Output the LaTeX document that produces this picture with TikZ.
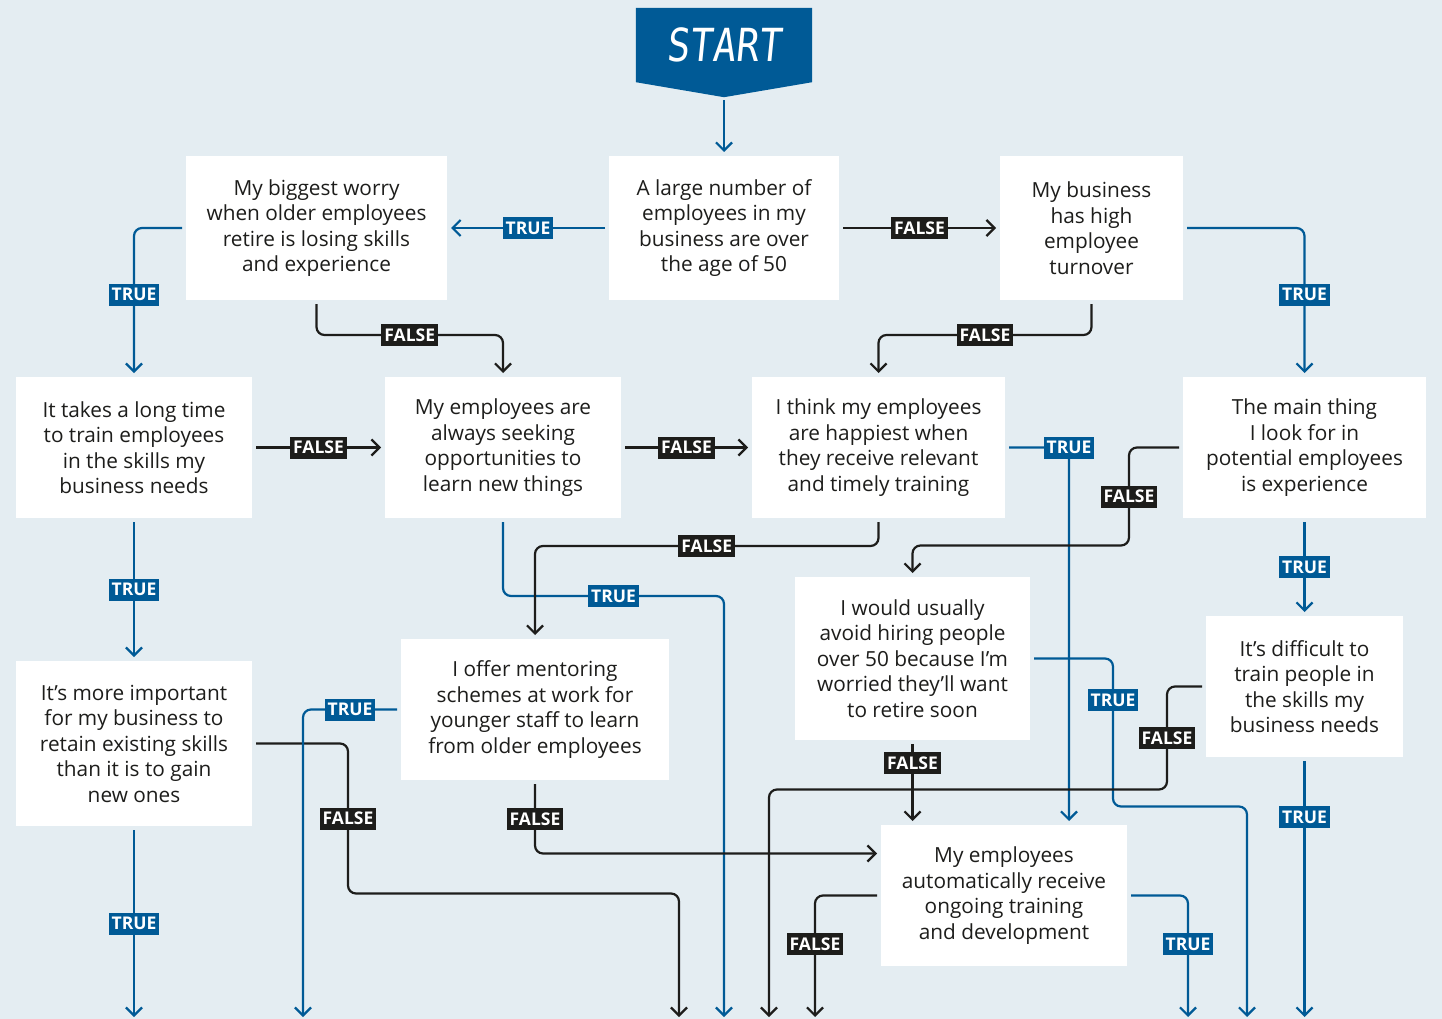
\documentclass[tikz,border=0pt]{standalone}
\usepackage{graphicx}
\usepackage{fontspec}
\setmainfont{Open Sans}
\newfontfamily\ledfont[FakeSlant=0.12]{DejaVu Sans Mono}
\usepackage{tikz}
\usetikzlibrary{arrows.meta}
\usetikzlibrary{backgrounds}
\definecolor{bgblue}{HTML}{E4EDF2}
\definecolor{darkblue}{HTML}{005A96}
\definecolor{nearblack}{HTML}{1D1D1B}

\begin{document}
\begin{tikzpicture}[x=1pt,y=-1pt,
  box/.style = {fill=white,align=center,inner sep=0pt,outer sep=4pt,
        text=nearblack,font=\fontsize{20.8}{25.5}\selectfont},
  tline/.style = {draw=darkblue,line width=2.2pt,rounded corners=8pt,
        -{Straight Barb[length=8pt,width=16pt]}},
  fline/.style = {draw=nearblack,line width=2.2pt,rounded corners=8pt,
        -{Straight Barb[length=8pt,width=16pt]}},
  truelab/.style = {fill=darkblue,text=white,sharp corners,inner xsep=3pt,inner ysep=0pt,
        minimum height=22pt,font=\bfseries\fontsize{17.5}{17.5}\selectfont},
  falselab/.style = {fill=nearblack,text=white,sharp corners,inner xsep=3pt,inner ysep=0pt,
        minimum height=22pt,font=\bfseries\fontsize{17.5}{17.5}\selectfont}]
 \useasboundingbox (0,0) rectangle (1442,1019);
 \node[minimum width=176pt,minimum height=74pt,inner sep=0pt,text=white] (start) at (724,45)
   {\ledfont\fontsize{38}{38}\selectfont\scalebox{1}[1.2]{START}};
 \begin{scope}[on background layer]
  \fill[bgblue] (0,0) rectangle (1442,1019);
  \fill[darkblue] (start.north west) -- (start.north east) -- (start.south east)
    -- ([yshift=-15pt]start.south) -- (start.south west) -- cycle;
 \end{scope}
 \node[box,minimum width=230pt,minimum height=144pt] (q1) at (724,228)
   {A large number of\\employees in my\\business are over\\the age of 50};
 \node[box,minimum width=261pt,minimum height=144pt] (q2) at (316.5,228)
   {My biggest worry\\when older employees\\retire is losing skills\\and experience};
 \node[box,minimum width=183pt,minimum height=144pt] (q3) at (1091.5,228)
   {My business\\has high\\employee\\turnover};
 \node[box,minimum width=236pt,minimum height=141pt] (q4) at (134,447.5)
   {It takes a long time\\to train employees\\in the skills my\\business needs};
 \node[box,minimum width=236pt,minimum height=141pt] (q5) at (503,447.5)
   {My employees are\\always seeking\\opportunities to\\learn new things};
 \node[box,minimum width=253pt,minimum height=141pt] (q6) at (878.5,447.5)
   {I think my employees\\are happiest when\\they receive relevant\\and timely training};
 \node[box,minimum width=243pt,minimum height=141pt] (q7) at (1304.5,447.5)
   {The main thing\\I look for in\\potential employees\\is experience};
 \node[box,minimum width=236pt,minimum height=165pt] (q8) at (134,743.5)
   {It’s more important\\for my business to\\retain existing skills\\than it is to gain\\new ones};
 \node[box,minimum width=268pt,minimum height=141pt] (q9) at (535,709.5)
   {I offer mentoring\\schemes at work for\\younger staff to learn\\from older employees};
 \node[box,minimum width=235pt,minimum height=163pt] (q10) at (912.5,658.5)
   {I would usually\\avoid hiring people\\over 50 because I’m\\worried they’ll want\\to retire soon};
 \node[box,minimum width=197pt,minimum height=141pt] (q11) at (1304.5,686.5)
   {It’s difficult to\\train people in\\the skills my\\business needs};
 \node[box,minimum width=246pt,minimum height=141pt] (q12) at (1004,895.5)
   {My employees\\automatically receive\\ongoing training\\and development};
 \coordinate (e1) at (134,1017);
 \coordinate (e2) at (303,1017);
 \coordinate (e3) at (679,1017);
 \coordinate (e4) at (724,1017);
 \coordinate (e5) at (769,1017);
 \coordinate (e6) at (815,1017);
 \coordinate (e7) at (1188,1017);
 \coordinate (e8) at (1247,1017);
 \coordinate (e9) at (1304.5,1017);
 \draw[tline] ([yshift=-18pt]start.south) -- (q1.north);
 \draw[tline] (q1.west) -- node[truelab] (t1) {TRUE} (q2.east);
 \draw[fline] (q1.east) -- node[falselab] (f1) {FALSE} (q3.west);
 \draw[tline] (q2.west) -| node[truelab,pos=0.73] (t2) {TRUE} (q4.north);
 \draw[fline] (q2.south) -- ++(0,31) -| node[falselab,pos=0.25] (f2) {FALSE} (q5.north);
 \draw[tline] (q3.east) -| node[truelab,pos=0.73] (t3) {TRUE} (q7.north);
 \draw[fline] (q3.south) -- ++(0,31) -| node[falselab,pos=0.25] (f3) {FALSE} (q6.north);
 \draw[fline] (q4.east) -- node[falselab] (f4) {FALSE} (q5.west);
 \draw[tline] (q4.south) -- node[truelab] (t4) {TRUE} (q8.north);
 \draw[fline] (q5.east) -- node[falselab] (f5) {FALSE} (q6.west);
 \draw[tline] (q5.south) -- ++(0,74) -| node[truelab,pos=0.25] (t5) {TRUE} (e4);
 \draw[fline] (q6.south) -- ++(0,24) -| node[falselab,pos=0.25] (f6) {FALSE} (q9.north);
 \draw[tline] (q6.east) -| node[truelab,pos=0.5] (t6) {TRUE} ([xshift=65pt]q12.north);
 \draw[fline] (q7.west) -- ++(-50,0) -- node[falselab] (f7) {FALSE} ++(0,98) -| (q10.north);
 \draw[tline] (q7.south) -- node[truelab] (t7) {TRUE} (q11.north);
 \draw[tline] (q8.south) -- node[truelab] (t8) {TRUE} (e1);
 \draw[fline] (q8.east) -- ++(92,0) -- node[falselab] (f8) {FALSE} ++(0,150) -| (e3);
 \draw[tline] (q9.west) -| node[truelab,pos=0.25] (t9) {TRUE} (e2);
 \draw[fline] (q9.south) |- node[falselab,pos=0.25] (f9) {FALSE} ([yshift=42pt]q12.west);
 \draw[fline] (q10.south) -- node[falselab,pos=0.25] (f10) {FALSE} (q10.south |- q12.north);
 \draw[tline] (q10.east) -- ++(79,0) -- node[truelab,pos=0.28] (t10) {TRUE} ++(0,148) -| (e8);
 \draw[fline] (q11.west) -- ++(-35,0) -- node[falselab] (f11) {FALSE} ++(0,103) -| (e5);
 \draw[tline] (q11.south) -- node[truelab,pos=0.22] (t11) {TRUE} (e9);
 \draw[fline] (q12.west) -| node[falselab,pos=0.7] (f12) {FALSE} (e6);
 \draw[tline] (q12.east) -| node[truelab,pos=0.7] (t12) {TRUE} (e7);
\end{tikzpicture}
\end{document}
